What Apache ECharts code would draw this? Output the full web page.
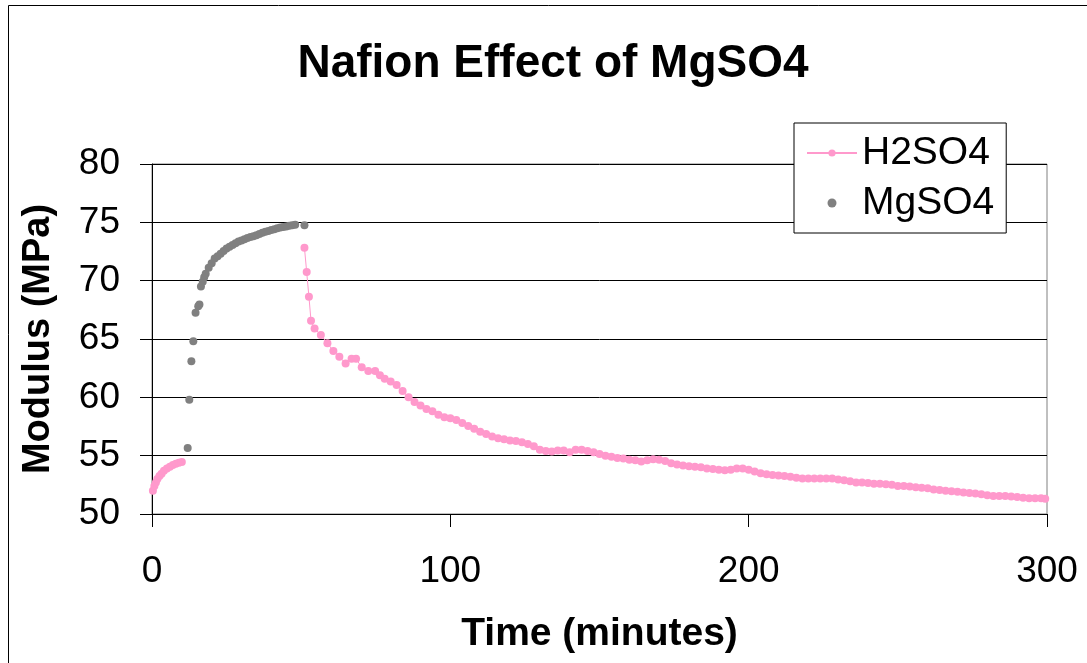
<!DOCTYPE html>
<html>
<head>
<meta charset="utf-8">
<script src="https://cdn.jsdelivr.net/npm/echarts@6/dist/echarts.min.js"></script>
<style>
  html, body { margin: 0; padding: 0; background: #fff; }
  #chart { width: 1087px; height: 663px; }
</style>
</head>
<body>
<div id="chart"></div>
<script>
// H2SO4, before the MgSO4 step (minutes, MPa)
const h2so4Early = [
  [0.3, 52.0], [0.8, 52.4], [1.3, 52.7], [1.8, 53.0], [2.5, 53.25], [3.2, 53.45],
  [4, 53.7], [5, 53.9], [6, 54.05], [7, 54.2], [8, 54.3], [9, 54.4], [10, 54.45]
];

// MgSO4
const mgso4 = [
  [11.96, 55.66], [12.5, 59.8], [13.2, 63.1], [13.85, 64.8], [14.6, 67.25], [15.5, 67.8],
  [15.9, 67.95], [16.4, 69.5], [17, 69.9], [17.5, 70.3], [18, 70.6], [19, 71.1], [20, 71.5],
  [21, 71.9], [22, 72.1], [23, 72.3], [24, 72.55], [25, 72.75], [26, 72.9], [27, 73.05],
  [28, 73.2], [29, 73.35], [30, 73.45], [31, 73.55], [32, 73.65], [33, 73.75], [34, 73.8],
  [35, 73.9], [36, 74.0], [37, 74.1], [38, 74.2], [39, 74.25], [40, 74.35], [41, 74.4],
  [42, 74.5], [43, 74.55], [44, 74.6], [45, 74.65], [46, 74.7], [47, 74.75], [48, 74.8],
  [51.1, 74.75]
];

// H2SO4, after the MgSO4 step
const h2so4Late = [
  [51.1, 72.83], [51.85, 70.74], [52.6, 68.63], [53.3, 66.57], [54.5, 65.9], [56.6, 65.34],
  [58.8, 64.63], [60.8, 63.97], [62.8, 63.48], [64.9, 62.9], [66.9, 63.3], [68.4, 63.3],
  [70.3, 62.57], [72.5, 62.26], [74.8, 62.26], [76.4, 61.9],
  [78, 61.6], [80, 61.35], [82, 61.05], [84, 60.55], [86, 60.0], [88, 59.6], [90, 59.3],
  [92, 59.0], [94, 58.8], [96, 58.5], [98, 58.3], [100, 58.2], [102, 58.05], [104, 57.8],
  [106, 57.55], [108, 57.3], [110, 57.05], [112, 56.85], [114, 56.65], [116, 56.5],
  [118, 56.4], [120, 56.3], [122, 56.25], [124, 56.15], [126, 56.0], [128, 55.8],
  [130, 55.5], [132, 55.4], [134, 55.35], [136, 55.45], [138, 55.45], [140, 55.3],
  [142, 55.5], [144, 55.5], [146, 55.4], [148, 55.3], [150, 55.15], [152, 55.0],
  [154, 54.9], [156, 54.8], [158, 54.75], [160, 54.65], [162, 54.6], [164, 54.5],
  [166, 54.6], [168, 54.7], [170, 54.65], [172, 54.55], [174, 54.35], [176, 54.25],
  [178, 54.15], [180, 54.1], [182, 54.05], [184, 54.0], [186, 53.9], [188, 53.85],
  [190, 53.8], [192, 53.75], [194, 53.8], [196, 53.9], [198, 53.9], [200, 53.8],
  [202, 53.65], [204, 53.5], [206, 53.4], [208, 53.35], [210, 53.3], [212, 53.25],
  [214, 53.2], [216, 53.1], [218, 53.05], [220, 53.05], [222, 53.05], [224, 53.05],
  [226, 53.05], [228, 53.05], [230, 52.95], [232, 52.9], [234, 52.8], [236, 52.7],
  [238, 52.7], [240, 52.65], [242, 52.6], [244, 52.6], [246, 52.55], [248, 52.5],
  [250, 52.4], [252, 52.4], [254, 52.35], [256, 52.3], [258, 52.25], [260, 52.2],
  [262, 52.1], [264, 52.05], [266, 52.0], [268, 51.95], [270, 51.9], [272, 51.85],
  [274, 51.8], [276, 51.75], [278, 51.7], [280, 51.6], [282, 51.55], [284, 51.55],
  [286, 51.55], [288, 51.5], [290, 51.45], [292, 51.4], [294, 51.35], [296, 51.35],
  [298, 51.35], [299.4, 51.3]
];

const seriesNames = ["H2SO4", "MgSO4"];
const pink = "#ff99cc";
const gray = "#808080";
const font = "Liberation Sans, Arial, sans-serif";

const chart = echarts.init(document.getElementById("chart"));

chart.setOption({
  animation: false,
  textStyle: { fontFamily: font },
  title: {
    text: "Nafion Effect of MgSO4",
    left: 548,
    top: 36,
    textAlign: "center",
    textStyle: { fontSize: 46, fontWeight: "bold", color: "#000", fontFamily: font }
  },
  graphic: [{
    type: "rect",
    shape: { x: 8.5, y: 5.5, width: 1100, height: 700 },
    style: { fill: null, stroke: "#000", lineWidth: 1 },
    silent: true
  }],
  legend: {
    orient: "vertical",
    left: 794,
    top: 123,
    padding: [8, 12],
    itemGap: 6,
    itemWidth: 50,
    itemHeight: 9,
    backgroundColor: "#fff",
    borderColor: "#000",
    borderWidth: 1,
    data: seriesNames,
    textStyle: { fontSize: 39, color: "#000", lineHeight: 44, fontFamily: font }
  },
  grid: {
    left: 152,
    right: 40,
    top: 164,
    bottom: 149,
    show: true,
    borderColor: gray,
    borderWidth: 1,
    backgroundColor: "#fff"
  },
  xAxis: {
    type: "value",
    min: 0,
    max: 300,
    interval: 100,
    name: "Time (minutes)",
    nameLocation: "middle",
    nameGap: 101,
    nameTextStyle: { fontSize: 39, fontWeight: "bold", color: "#000", fontFamily: font },
    axisLine: { show: true, onZero: false, lineStyle: { color: "#000", width: 1 } },
    axisTick: { show: true, inside: false, length: 13, lineStyle: { color: "#000" } },
    axisLabel: { fontSize: 37, color: "#000", margin: 39, fontFamily: font },
    splitLine: { show: false }
  },
  yAxis: {
    type: "value",
    min: 50,
    max: 80,
    interval: 5,
    name: "Modulus (MPa)",
    nameLocation: "middle",
    nameRotate: 90,
    nameGap: 94,
    nameTextStyle: { fontSize: 38, fontWeight: "bold", color: "#000", fontFamily: font },
    axisLine: { show: true, onZero: false, lineStyle: { color: "#000", width: 1 } },
    axisTick: { show: true, inside: false, length: 12, lineStyle: { color: "#000" } },
    axisLabel: { fontSize: 37, color: "#000", margin: 32, fontFamily: font },
    splitLine: { show: true, lineStyle: { color: "#000", width: 1 } }
  },
  series: [
    {
      name: seriesNames[0],
      type: "line",
      data: h2so4Early,
      symbol: "circle",
      symbolSize: 8,
      showAllSymbol: true,
      itemStyle: { color: pink },
      lineStyle: { color: pink, width: 1 },
      z: 3
    },
    {
      name: seriesNames[0],
      type: "line",
      data: h2so4Late,
      symbol: "circle",
      symbolSize: 8,
      showAllSymbol: true,
      itemStyle: { color: pink },
      lineStyle: { color: pink, width: 1 },
      z: 3
    },
    {
      name: seriesNames[1],
      type: "scatter",
      data: mgso4,
      symbol: "circle",
      symbolSize: 8,
      itemStyle: { color: gray, opacity: 1 },
      z: 4
    }
  ]
});
</script>
</body>
</html>
